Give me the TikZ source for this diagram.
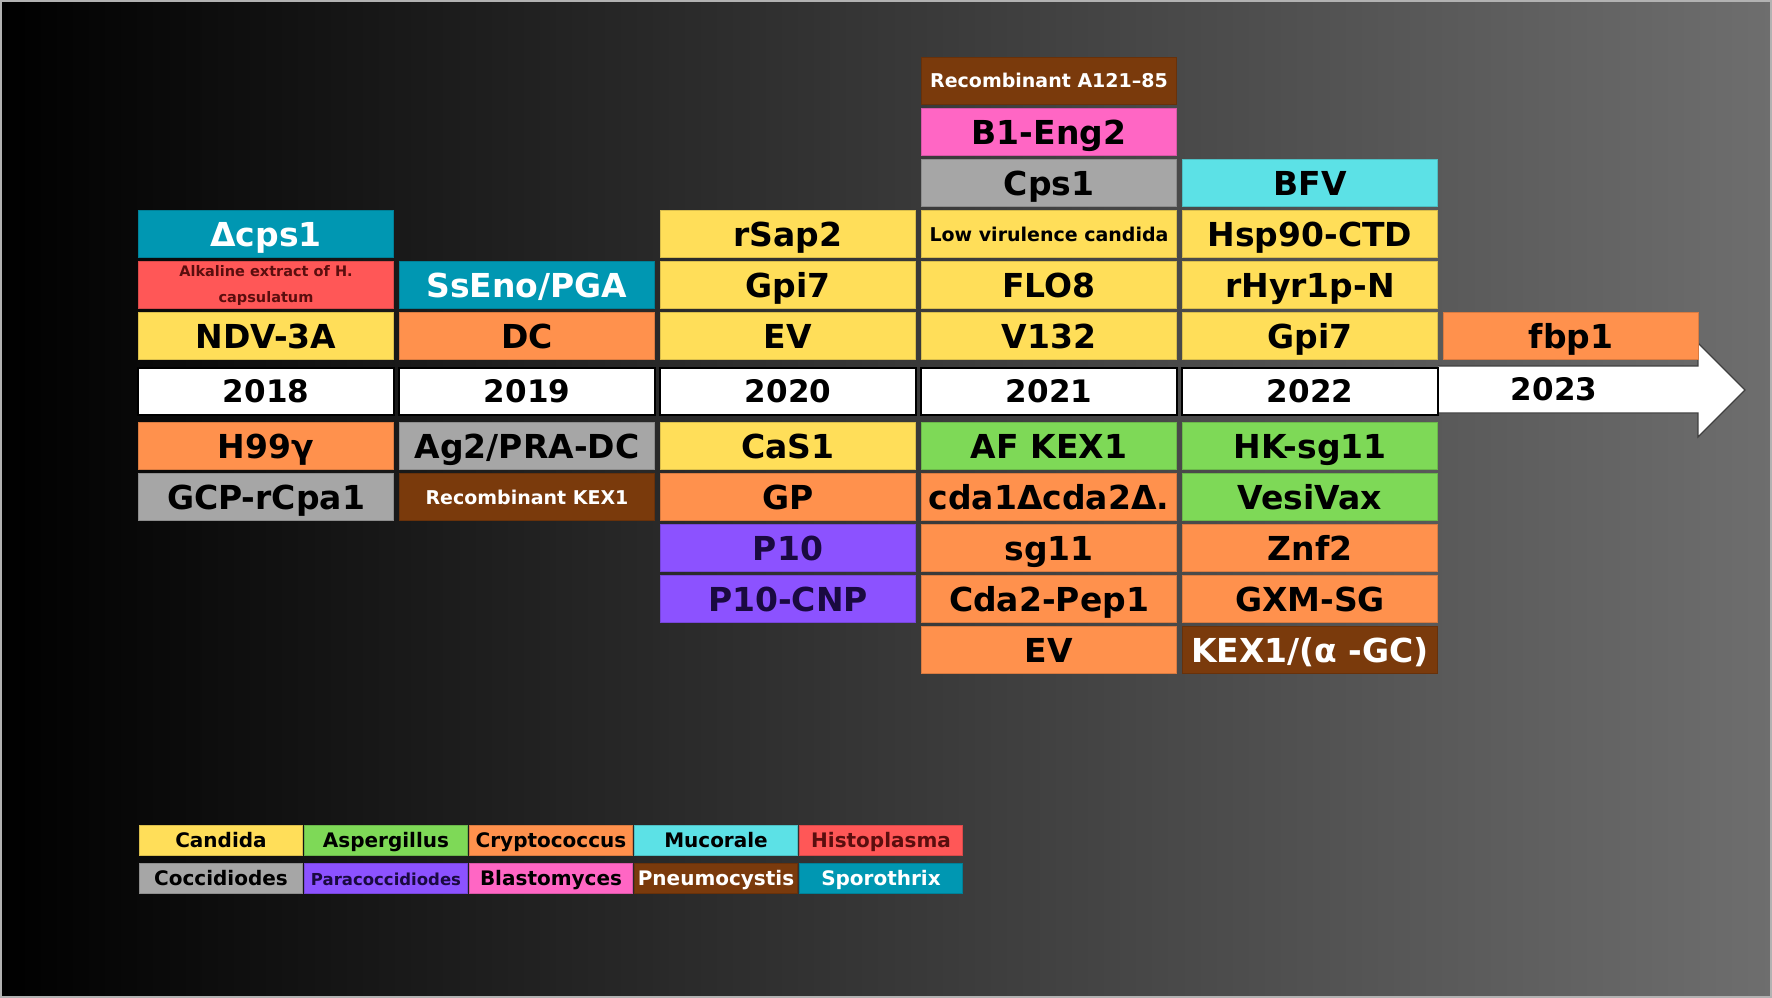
\documentclass[tikz,border=0pt]{standalone}
\usepackage{fontspec}
\setmainfont{DejaVu Sans}
\usetikzlibrary{positioning}

\definecolor{candidaC}{HTML}{FFDE59}
\definecolor{asperC}{HTML}{7ED957}
\definecolor{cryptoC}{HTML}{FF914D}
\definecolor{mucorC}{HTML}{5CE1E6}
\definecolor{histoC}{HTML}{FF5757}
\definecolor{histoT}{HTML}{5A0E0E}
\definecolor{cocciC}{HTML}{A6A6A6}
\definecolor{paraC}{HTML}{8C52FF}
\definecolor{paraT}{HTML}{1A0A40}
\definecolor{blastoC}{HTML}{FF66C4}
\definecolor{pneumoC}{HTML}{7A3A0C}
\definecolor{sporC}{HTML}{0097B2}
\definecolor{bgM}{HTML}{2C2C2C}
\definecolor{bgR}{HTML}{6E6E6E}

\tikzset{
  fbox/.style={rectangle, minimum width=255pt, minimum height=47pt, inner sep=0pt,
    line width=1.5pt, draw=#1!85!black, fill=#1},
  big/.style={font=\fontsize{33}{36}\selectfont\bfseries, text height=26pt, text depth=2pt},
  small/.style={font=\fontsize{19}{22}\selectfont\bfseries, text height=15pt, text depth=1pt},
  candida/.style={fbox=candidaC, big},
  asper/.style={fbox=asperC, big},
  crypto/.style={fbox=cryptoC, big},
  mucor/.style={fbox=mucorC, big},
  cocci/.style={fbox=cocciC, big},
  para/.style={fbox=paraC, big, text=paraT},
  blasto/.style={fbox=blastoC, big},
  pneumo/.style={fbox=pneumoC, big, text=white},
  spor/.style={fbox=sporC, big, text=white},
  yearbox/.style={rectangle, minimum width=256pt, minimum height=47pt, inner sep=0pt,
    fill=white, draw=black, line width=2pt,
    font=\fontsize{31}{34}\selectfont\bfseries, text height=24pt, text depth=1.5pt},
  yearlbl/.style={font=\fontsize{31}{34}\selectfont\bfseries, inner sep=0pt},
  yeararrow/.style={fill=white, draw=black!75, line width=1.2pt, line join=miter},
  legbox/.style={rectangle, minimum width=163pt, minimum height=30pt, inner sep=0pt,
    line width=1pt, draw=#1!85!black, fill=#1,
    font=\fontsize{20}{22}\selectfont\bfseries, text height=16pt, text depth=1.5pt}
}

\begin{document}
\begin{tikzpicture}[x=1pt, y=-1pt, on grid, node distance=51pt and 261pt]
  \useasboundingbox (0,0) rectangle (1772,998);
  \shade[left color=black, middle color=bgM, right color=bgR] (0,0) rectangle (1772,998);
  \draw[gray!60, line width=2pt] (1,1) rectangle (1771,997);

  \draw[yeararrow] (1438,366) -- (1698,366) -- (1698,343) -- (1745,390)
    -- (1698,437) -- (1698,413) -- (1438,413);

  \node[yearbox] (y2018) at (266,391) {2018};
  \node[yearbox, right=of y2018] (y2019) {2019};
  \node[yearbox, right=of y2019] (y2020) {2020};
  \node[yearbox, right=of y2020] (y2021) {2021};
  \node[yearbox, right=of y2021] (y2022) {2022};
  \node[yearlbl] (y2023) at (1554,389) {2023};

  \node[candida, above=55pt of y2018] (ndv) {NDV-3A};
  \node[fbox=histoC, above=of ndv, text=histoT, align=center,
    font=\fontsize{14.5}{26}\selectfont\bfseries] (alk) {Alkaline extract of H.\\capsulatum};
  \node[spor, above=of alk] (dcps) {Δcps1};
  \node[crypto, below=55pt of y2018] (h99) {H99γ};
  \node[cocci, below=of h99] (gcp) {GCP-rCpa1};

  \node[crypto, above=55pt of y2019] (dc) {DC};
  \node[spor, above=of dc] (sseno) {SsEno/PGA};
  \node[cocci, below=55pt of y2019] (ag2) {Ag2/PRA-DC};
  \node[pneumo, small, below=of ag2] (rkex) {Recombinant KEX1};

  \node[candida, above=55pt of y2020] (ev20) {EV};
  \node[candida, above=of ev20] (gpi20) {Gpi7};
  \node[candida, above=of gpi20] (rsap) {rSap2};
  \node[candida, below=55pt of y2020] (cas) {CaS1};
  \node[crypto, below=of cas] (gp) {GP};
  \node[para, below=of gp] (p10) {P10};
  \node[para, below=of p10] (p10cnp) {P10-CNP};

  \node[candida, above=55pt of y2021] (v132) {V132};
  \node[candida, above=of v132] (flo) {FLO8};
  \node[candida, small, above=of flo] (lowvir) {Low virulence candida};
  \node[cocci, above=of lowvir] (cps) {Cps1};
  \node[blasto, above=of cps] (beng) {B1-Eng2};
  \node[pneumo, small, above=of beng] (ra121) {Recombinant A121–85};
  \node[asper, below=55pt of y2021] (afkex) {AF KEX1};
  \node[crypto, below=of afkex] (cda) {cda1Δcda2Δ.};
  \node[crypto, below=of cda] (sg) {sg11};
  \node[crypto, below=of sg] (cdapep) {Cda2-Pep1};
  \node[crypto, below=of cdapep] (ev21) {EV};

  \node[candida, above=55pt of y2022] (gpi22) {Gpi7};
  \node[candida, above=of gpi22] (rhyr) {rHyr1p-N};
  \node[candida, above=of rhyr] (hsp) {Hsp90-CTD};
  \node[mucor, above=of hsp] (bfv) {BFV};
  \node[asper, below=55pt of y2022] (hksg) {HK-sg11};
  \node[asper, below=of hksg] (vesi) {VesiVax};
  \node[crypto, below=of vesi] (znf) {Znf2};
  \node[crypto, below=of znf] (gxm) {GXM-SG};
  \node[pneumo, below=of gxm] (kexgc) {KEX1/(α -GC)};

  \node[crypto, right=of gpi22] (fbp) {fbp1};

  \node[legbox=candidaC] (lcan) at (221,840) {Candida};
  \node[legbox=asperC, right=165pt of lcan] (lasp) {Aspergillus};
  \node[legbox=cryptoC, right=165pt of lasp] (lcry) {Cryptococcus};
  \node[legbox=mucorC, right=165pt of lcry] (lmuc) {Mucorale};
  \node[legbox=histoC, text=histoT, right=165pt of lmuc] (lhis) {Histoplasma};
  \node[legbox=cocciC, below=38pt of lcan] (lcoc) {Coccidiodes};
  \node[legbox=paraC, text=paraT, font=\fontsize{16.5}{20}\selectfont\bfseries,
    right=165pt of lcoc] (lpar) {Paracoccidiodes};
  \node[legbox=blastoC, right=165pt of lpar] (lbla) {Blastomyces};
  \node[legbox=pneumoC, text=white, right=165pt of lbla] (lpne) {Pneumocystis};
  \node[legbox=sporC, text=white, right=165pt of lpne] (lspo) {Sporothrix};
\end{tikzpicture}
\end{document}
